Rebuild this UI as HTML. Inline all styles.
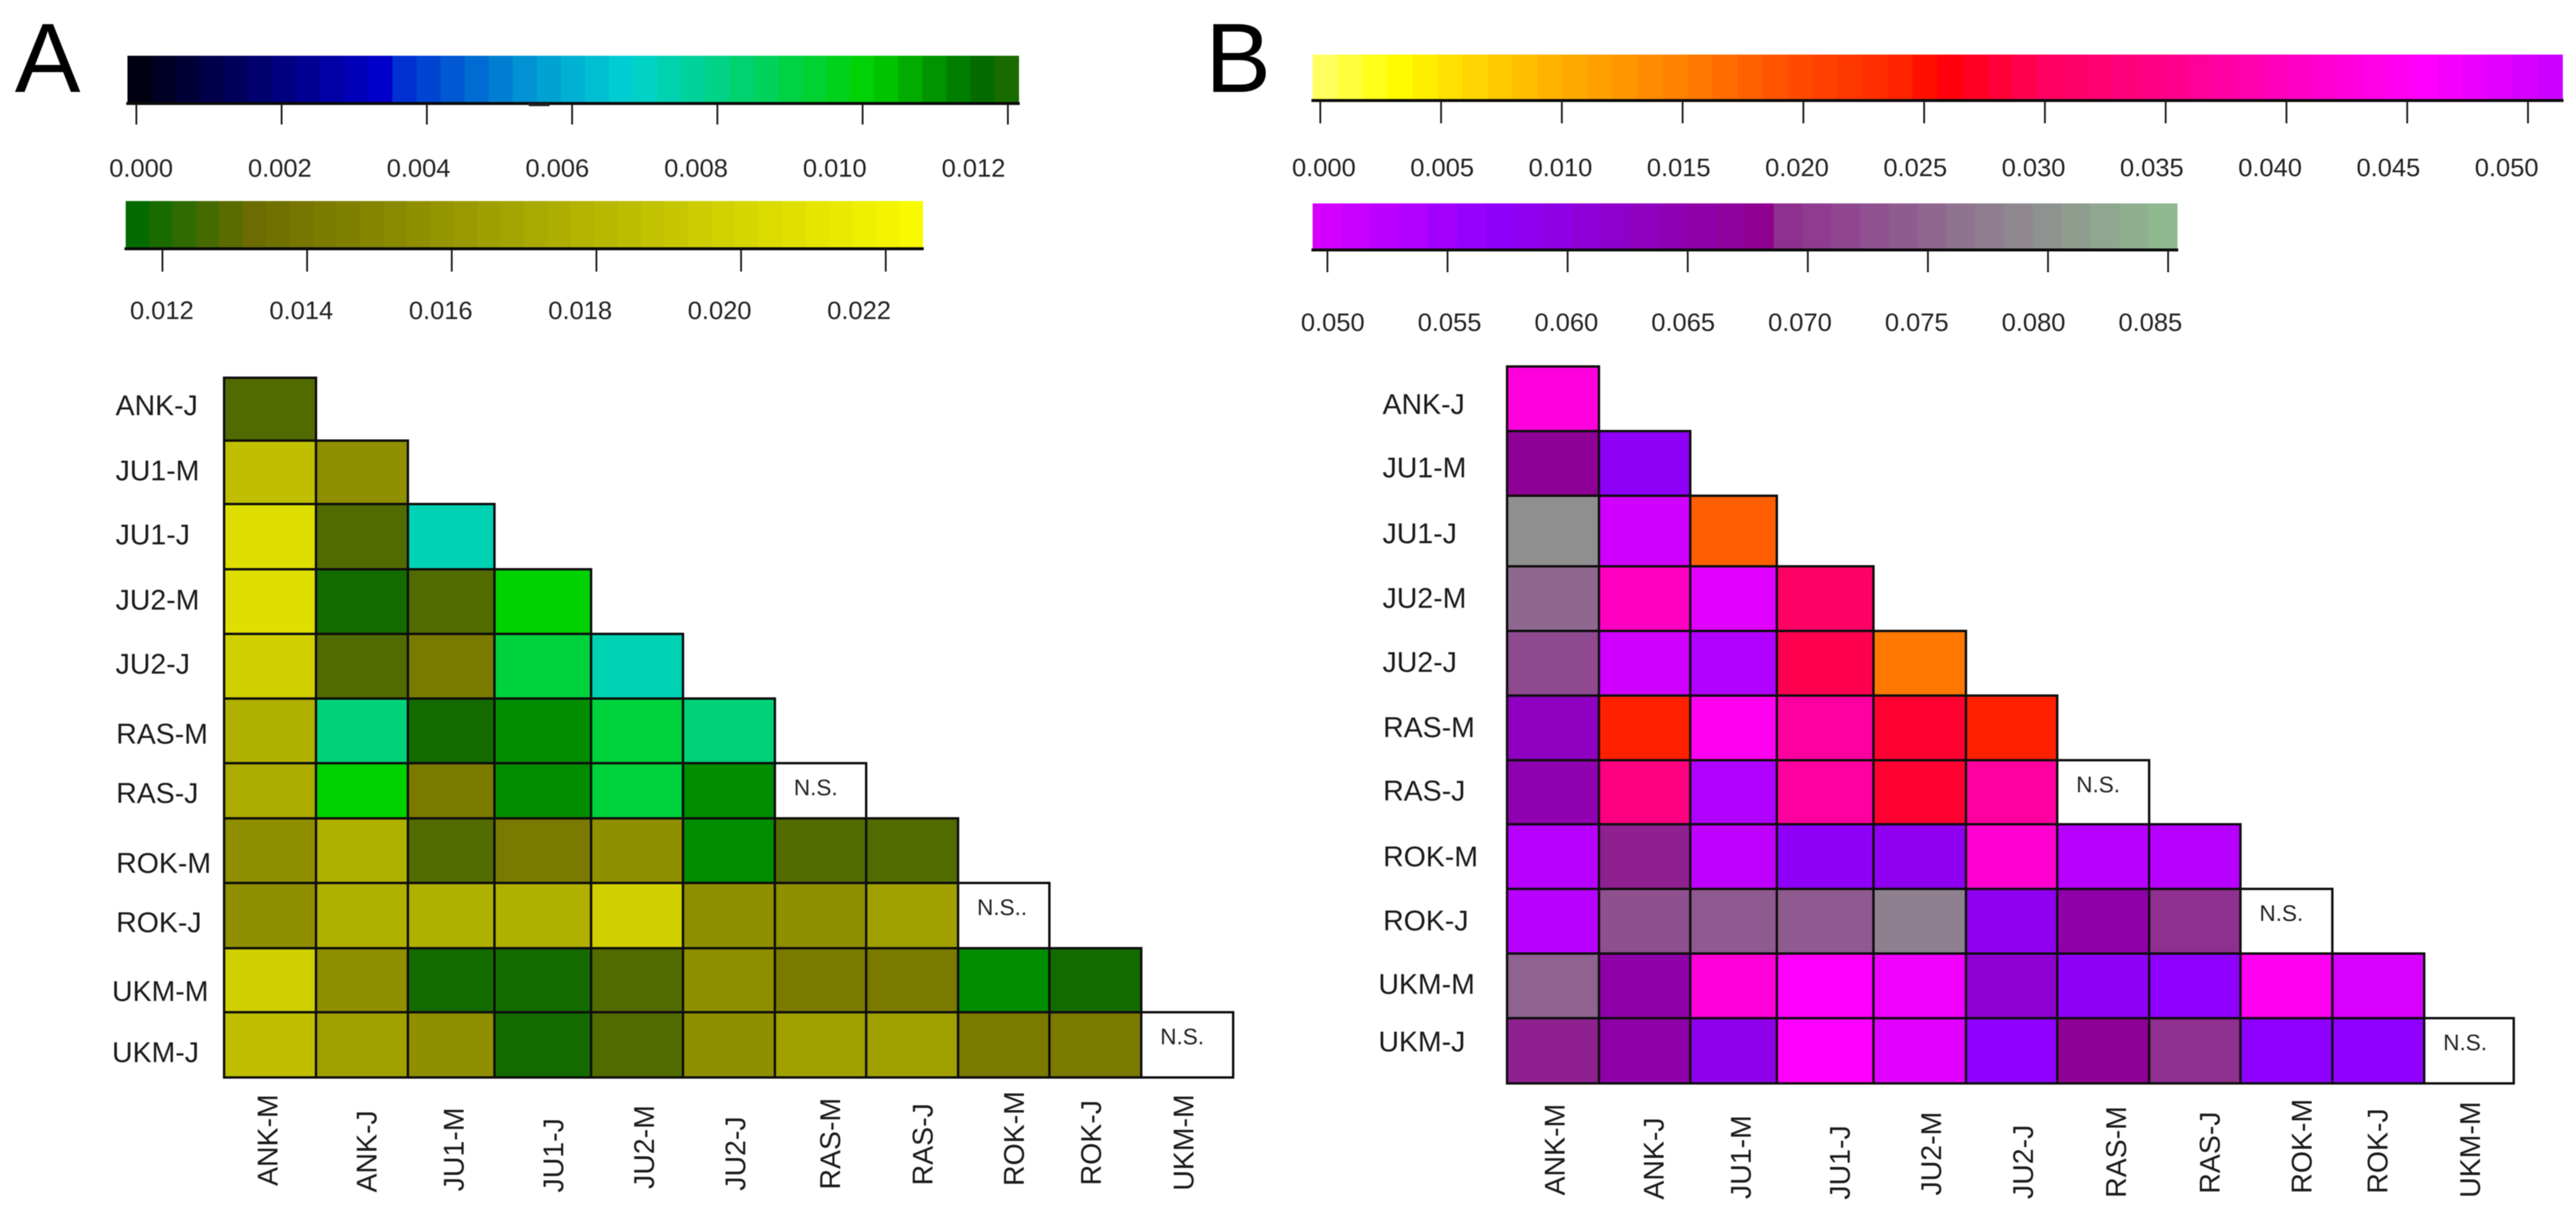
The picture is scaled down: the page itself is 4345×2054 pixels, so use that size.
<!DOCTYPE html>
<html lang="en">
<head>
<meta charset="utf-8">
<title>Pairwise heatmaps A and B</title>
<style>
html,body{margin:0;padding:0;background:#fff;width:4345px;height:2054px;overflow:hidden}
svg{display:block;font-family:"Liberation Sans",sans-serif}
</style>
</head>
<body>
<svg id="fig" xmlns="http://www.w3.org/2000/svg" width="4345" height="2054" viewBox="0 0 4345 2054" style="filter:blur(0.8px)">
  <rect x="0" y="0" width="4345" height="2054" fill="#ffffff"/>
  <text x="25" y="155" font-size="166" fill="#000">A</text>
  <text x="2033" y="155" font-size="166" fill="#000">B</text>
  <g id="layer"></g>
  <rect x="892" y="174" width="35" height="5" fill="#222"/>
</svg>
<script>
// ---------- data ----------
const rowLabels = ["ANK-J","JU1-M","JU1-J","JU2-M","JU2-J","RAS-M","RAS-J","ROK-M","ROK-J","UKM-M","UKM-J"];
const colLabels = ["ANK-M","ANK-J","JU1-M","JU1-J","JU2-M","JU2-J","RAS-M","RAS-J","ROK-M","ROK-J","UKM-M"];

const valuesA = [
  [.01283],
  [.01859,.01551],
  [.02058,.01283,.00727],
  [.02058,.01188,.01283,.0101],
  [.01968,.01283,.01416,.00916,.00727],
  [.01763,.00818,.01188,.0111,.00916,.00818],
  [.01731,.0101,.01416,.0111,.00916,.0111,"N.S."],
  [.01551,.01763,.01283,.01416,.01551,.0111,.01283,.01283],
  [.01551,.01763,.01763,.01763,.01968,.01551,.01551,.0166,"N.S.."],
  [.01968,.01551,.01188,.01188,.01283,.01551,.01416,.01416,.0111,.01188],
  [.01859,.0166,.01551,.01188,.01283,.01551,.0166,.0166,.01416,.01416,"N.S."]
];
const valuesB = [
  [.04263],
  [.06749,.05751],
  [.0794,.05042,.01795],
  [.07523,.040,.04884,.0305],
  [.07202,.05042,.05356,.02925,.01571],
  [.06321,.0245,.0445,.03714,.02775,.0245],
  [.06484,.034,.05356,.03714,.02775,.03714,"N.S."],
  [.05277,.0685,.05199,.05751,.05833,.0415,.05277,.05277],
  [.05277,.07266,.07373,.07373,.0778,.05833,.06566,.06913,"N.S."],
  [.07459,.06566,.04225,.0458,.04727,.06158,.05751,.0568,.0445,.04963],
  [.0685,.06566,.05894,.0458,.04884,.0568,.06749,.06913,.0568,.0568,"N.S."]
];

const ticksA1 = [0,.002,.004,.006,.008,.010,.012];
const ticksA2 = [.012,.014,.016,.018,.020,.022];
const ticksB1 = [0,.005,.010,.015,.020,.025,.030,.035,.040,.045,.050];
const ticksB2 = [.050,.055,.060,.065,.070,.075,.080,.085];

const colorStopValuesA = [0,.0035,.00355,.0049,.0056,.0068,.0101,.0116,.0132,.0227];
const colorStopHexA = ["#000010","#0000d2","#0028d2","#0078d2","#00a0d2","#00d2d2","#00d200","#006b00","#6b6b00","#ffff00"];
const colorStopValuesB = [-.0003,.003,.005,.0075,.010,.015,.020,.0245,.0255,.030,.035,.040,.0445,.0458,.0568,.0682,.0686,.0794,.0863];
const colorStopHexB = ["#ffff70","#ffff00","#ffe400","#ffc800","#ffae00","#ff8000","#ff4800","#ff2000","#ff0000","#ff0060","#ff0088","#ff00c0","#ff00f0","#ff00ff","#8f00ff","#8f008f","#8f2a8f","#8f8f8f","#8fc48f"];

// ---------- layout (geometry only) ----------
const layoutA = {
  colEdges:[378,533,688,834,997,1152,1307,1461,1616,1770,1925,2080],
  rowEdges:[637,743,850,960,1069,1178,1287,1380,1489,1599,1707,1817],
  rowLabelX:[195,195,195,195,195,196,196,196,196,189,189],
  rowLabelY:[683,793,901,1011,1119,1237,1337,1455,1555,1671,1774],
  colLabelX:[451,618,765,933,1086,1240,1400,1556,1710,1840,1996],
  colLabelBottom:[2000,2011,2009,2011,2005,2008,2006,1999,2000,1999,2008]
};
const layoutB = {
  colEdges:[2542,2697,2851,2997,3160,3316,3470,3625,3779,3934,4089,4240],
  rowEdges:[618,727,836,955,1064,1173,1282,1390,1499,1608,1717,1827],
  rowLabelX:[2332,2332,2332,2332,2332,2333,2333,2333,2333,2325,2325],
  rowLabelY:[681,788,899,1008,1116,1226,1333,1444,1552,1659,1756],
  colLabelX:[2622,2789,2936,3103,3257,3412,3569,3727,3882,4010,4166],
  colLabelBottom:[2016,2023,2022,2023,2016,2022,2020,2013,2013,2013,2020]
};

// ---------- helpers ----------
const NS = "http://www.w3.org/2000/svg";
const layer = document.getElementById("layer");
function mk(tag, attrs, parent){
  const el = document.createElementNS(NS, tag);
  for (const k in attrs) el.setAttribute(k, attrs[k]);
  parent.appendChild(el);
  return el;
}
function hexToRgb(h){ return [1,3,5].map(i => parseInt(h.slice(i,i+2),16)); }
function colorScale(stopValues, stopHex){
  const rgb = stopHex.map(hexToRgb);
  return function(v){
    if (v <= stopValues[0]) return stopHex[0];
    for (let i = 1; i < stopValues.length; i++){
      if (v <= stopValues[i]){
        const t = (v - stopValues[i-1]) / (stopValues[i] - stopValues[i-1]);
        const c = rgb[i-1].map((a,j) => Math.round(a + (rgb[i][j]-a)*t));
        return "rgb(" + c.join(",") + ")";
      }
    }
    return stopHex[stopHex.length-1];
  };
}
function linear(d0,d1,r0,r1){ return v => r0 + (v-d0)/(d1-d0)*(r1-r0); }
const colorA = colorScale(colorStopValuesA, colorStopHexA);
const colorB = colorScale(colorStopValuesB, colorStopHexB);

// ---------- colour bars ----------
function drawColorbar(cfg){
  const g = mk("g", {}, layer);
  
  
  const tickX = linear(cfg.ticks[0], cfg.ticks[cfg.ticks.length-1], cfg.tickR[0], cfg.tickR[1]);
  const labelX = linear(cfg.ticks[0], cfg.ticks[cfg.ticks.length-1], cfg.labelR[0], cfg.labelR[1]);
  const xToV = linear(cfg.tickR[0], cfg.tickR[1], cfg.ticks[0], cfg.ticks[cfg.ticks.length-1]);
  const bw = (cfg.x1 - cfg.x0) / cfg.bands;
  for (let i = 0; i < cfg.bands; i++){
    const bx = cfg.x0 + i*bw;
    const band = mk("rect", {x:bx, y:cfg.y0, width:bw+0.8, height:cfg.y1-cfg.y0, fill:cfg.color(xToV(bx+bw/2))}, g);
    
    
  }
  const base = mk("rect", {x:cfg.x0-2, y:cfg.y1-3, width:cfg.x1-cfg.x0+4, height:5, fill:"#0a0a0a"}, g);
  
  
  cfg.ticks.forEach(t => {
    const tk = mk("line", {x1:tickX(t), x2:tickX(t), y1:cfg.y1, y2:cfg.tickEnd, stroke:"#1a1a1a", "stroke-width":3}, g);
    
    
    const lb = mk("text", {x:labelX(t), y:cfg.labelY+15, "font-size":43, "text-anchor":"middle", fill:"#222"}, g);
    
    
    lb.textContent = t.toFixed(3);
  });
}
drawColorbar({name:"panel-a-colorbar-low", ticks:ticksA1, color:colorA, x0:215, x1:1718, y0:94, y1:175, tickEnd:210, bands:37, tickR:[230,1700], labelR:[238,1642], labelY:283});
drawColorbar({name:"panel-a-colorbar-high", ticks:ticksA2, color:colorA, x0:212, x1:1556, y0:339, y1:420, tickEnd:458, bands:34, tickR:[274,1494], labelR:[273,1449], labelY:523});
drawColorbar({name:"panel-b-colorbar-low", ticks:ticksB1, color:colorB, x0:2214, x1:4322, y0:92, y1:170, tickEnd:208, bands:50, tickR:[2227,4264], labelR:[2233,4228], labelY:282});
drawColorbar({name:"panel-b-colorbar-high", ticks:ticksB2, color:colorB, x0:2214, x1:3672, y0:343, y1:422, tickEnd:459, bands:30, tickR:[2239,3657], labelR:[2248,3627], labelY:543});

// ---------- heatmaps ----------
function drawHeatmap(panelName, matrix, layout, color){
  const g = mk("g", {}, layer);
  
  
  const bandX = i => [layout.colEdges[i], layout.colEdges[i+1]];
  const bandY = i => [layout.rowEdges[i], layout.rowEdges[i+1]];
  matrix.forEach((row, r) => {
    row.forEach((v, c) => {
      const [x0,x1] = bandX(c), [y0,y1] = bandY(r);
      const isText = typeof v === "string";
      const cell = mk("rect", {x:x0, y:y0, width:x1-x0, height:y1-y0, fill:isText ? "#ffffff" : color(v), stroke:"#0d0d0d", "stroke-width":4}, g);
      
      
      if (isText){
        const ns = mk("text", {x:x0+32, y:y0+54, "font-size":38, fill:"#222"}, g);
        
        
        ns.textContent = v;
      }
    });
  });
  rowLabels.forEach((name, i) => {
    const t = mk("text", {x:layout.rowLabelX[i], y:layout.rowLabelY[i]+17, "font-size":48, fill:"#1a1a1a"}, g);
    
    
    t.textContent = name;
  });
  colLabels.forEach((name, i) => {
    const bx = layout.colLabelX[i]+17, by = layout.colLabelBottom[i];
    const t = mk("text", {x:bx, y:by, "font-size":48, fill:"#1a1a1a", transform:"rotate(-90 "+bx+" "+by+")"}, g);
    
    
    t.textContent = name;
  });
}
drawHeatmap("panel-a-heatmap", valuesA, layoutA, colorA);
drawHeatmap("panel-b-heatmap", valuesB, layoutB, colorB);
</script>
</body>
</html>
